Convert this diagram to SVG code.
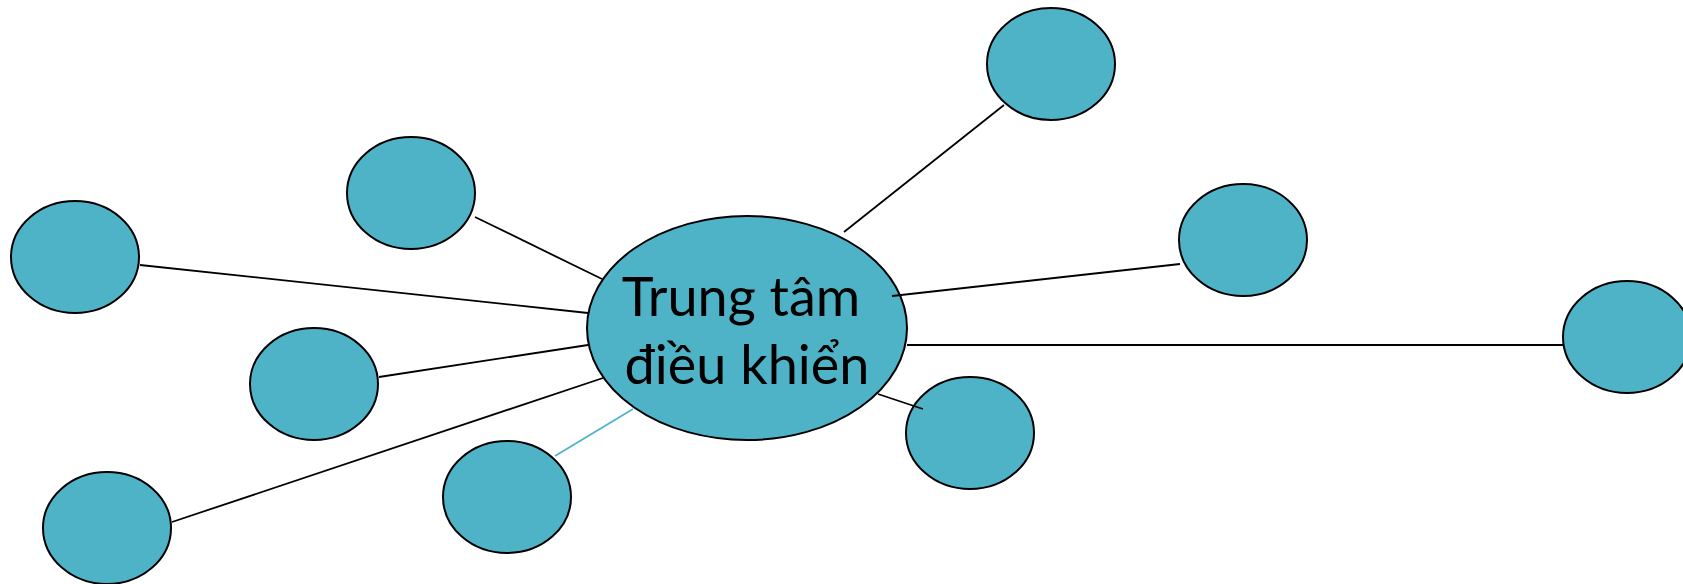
<svg xmlns="http://www.w3.org/2000/svg" width="1683" height="584" viewBox="0 0 1683 584">
<style>
.n{fill:#4FB3C8;stroke:#000;stroke-width:2}
.c line{stroke:#000;stroke-width:1.8}
.c line.cy{stroke:#4FB3C8}
.t{font-family:Lato,"Open Sans",sans-serif;font-size:54px;fill:#000;text-anchor:middle}
</style>
<rect width="1683" height="584" fill="#fff"/>
<g id="center"><ellipse class="n" cx="747" cy="328" rx="160" ry="112"/>
<text class="t" x="741" y="316">Trung tâm</text>
<text class="t" x="747" y="384">điều khiển</text></g>
<g id="n1"><ellipse class="n" cx="411" cy="193" rx="64" ry="56"/></g>
<g id="n2"><ellipse class="n" cx="75" cy="257" rx="64" ry="56"/></g>
<g id="n3"><ellipse class="n" cx="314" cy="384" rx="64" ry="56"/></g>
<g id="n4"><ellipse class="n" cx="107" cy="528" rx="64" ry="56"/></g>
<g id="n5"><ellipse class="n" cx="507" cy="497" rx="64" ry="56"/></g>
<g id="n6"><ellipse class="n" cx="1051" cy="64" rx="64" ry="56"/></g>
<g id="n7"><ellipse class="n" cx="1243" cy="240" rx="64" ry="56"/></g>
<g id="n8"><ellipse class="n" cx="1627" cy="337" rx="64" ry="56"/></g>
<g id="n9"><ellipse class="n" cx="970" cy="433" rx="64" ry="56"/></g>
<g id="connectors" class="c">
<line x1="475" y1="217" x2="602" y2="279"/>
<line x1="140" y1="265" x2="588" y2="313"/>
<line x1="379" y1="377" x2="588" y2="345"/>
<line x1="172" y1="522" x2="603" y2="378"/>
<line class="cy" x1="555" y1="456" x2="633" y2="409"/>
<line x1="844" y1="232" x2="1004" y2="105"/>
<line x1="892" y1="296" x2="1180" y2="264"/>
<line x1="907" y1="345" x2="1564" y2="345"/>
<line x1="878" y1="394" x2="923" y2="409"/>
</g>
</svg>
